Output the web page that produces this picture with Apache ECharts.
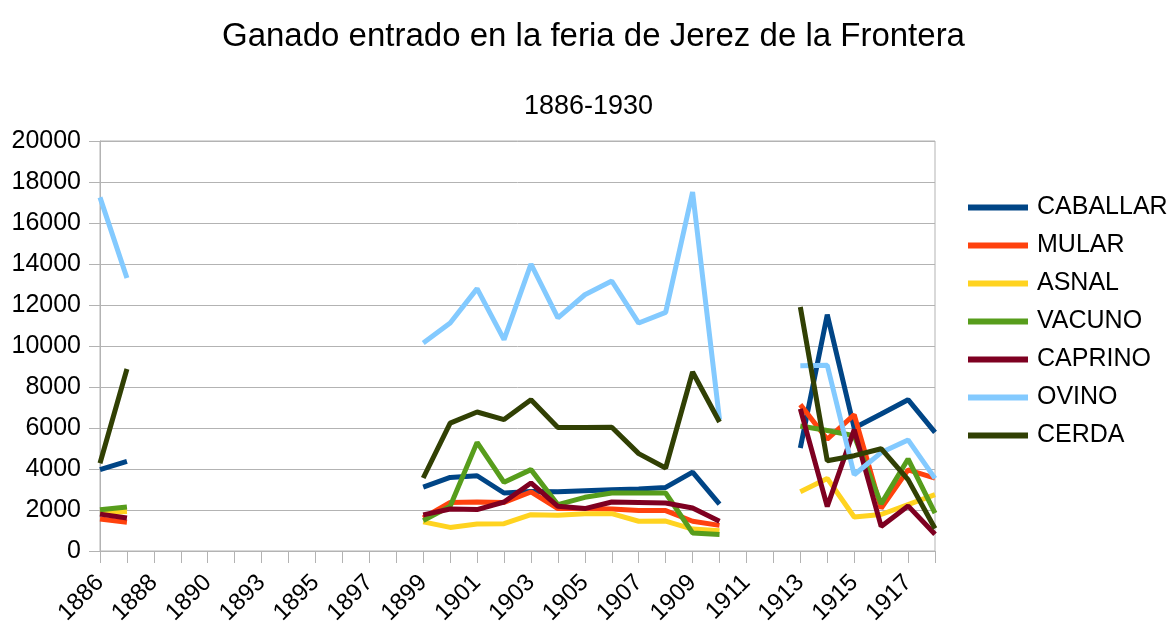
<!DOCTYPE html>
<html>
<head>
<meta charset="utf-8">
<title>Ganado entrado en la feria de Jerez de la Frontera</title>
<script src="https://cdn.jsdelivr.net/npm/echarts@6/dist/echarts.min.js"></script>
<style>
  html, body { margin: 0; padding: 0; background: #fff; }
  #chart { width: 1174px; height: 624px; }
</style>
</head>
<body>
<div id="chart"></div>
<script>
  // years on the category axis (1891 is not in the table)
  var years = [
    '1886', '1887', '1888', '1889', '1890', '1892', '1893', '1894', '1895', '1896',
    '1897', '1898', '1899', '1900', '1901', '1902', '1903', '1904', '1905', '1906',
    '1907', '1908', '1909', '1910', '1911', '1912', '1913', '1914', '1915', '1916',
    '1917', '1918'
  ];
  var gap10 = [null, null, null, null, null, null, null, null, null, null];

  var caballar = [3970, 4370].concat(gap10,
    [3120, 3590, 3670, 2830, 2900, 2890, 2940, 2990, 3020, 3100, 3850, 2290],
    [null, null], [5020, 11530, 6000, 6680, 7380, 5790]);
  var mular = [1560, 1400].concat(gap10,
    [1610, 2370, 2390, 2370, 2880, 2070, 2070, 2050, 1970, 1970, 1450, 1250],
    [null, null], [7140, 5450, 6650, 2080, 3960, 3560]);
  var asnal = [1850, 1930].concat(gap10,
    [1420, 1150, 1320, 1330, 1770, 1740, 1820, 1820, 1450, 1460, 1070, 990],
    [null, null], [2890, 3540, 1660, 1780, 2260, 2750]);
  var vacuno = [2010, 2150].concat(gap10,
    [1480, 2180, 5300, 3350, 3970, 2260, 2620, 2830, 2830, 2830, 880, 810],
    [null, null], [6100, 5880, 5620, 2300, 4490, 1850]);
  var caprino = [1800, 1610].concat(gap10,
    [1760, 2050, 2020, 2390, 3320, 2180, 2070, 2390, 2370, 2340, 2100, 1450],
    [null, null], [6930, 2170, 5920, 1200, 2200, 820]);
  var ovino = [17250, 13320].concat(gap10,
    [10150, 11120, 12800, 10310, 14000, 11370, 12500, 13170, 11120, 11640, 17510, 6410],
    [null, null], [9040, 9060, 3720, 4800, 5420, 3540]);
  var cerda = [4280, 8880].concat(gap10,
    [3560, 6240, 6780, 6410, 7380, 6030, 6030, 6040, 4750, 4050, 8730, 6290],
    [null, null], [11900, 4400, 4650, 4990, 3480, 1100]);

  var names = ['CABALLAR', 'MULAR', 'ASNAL', 'VACUNO', 'CAPRINO', 'OVINO', 'CERDA'];
  var values = [caballar, mular, asnal, vacuno, caprino, ovino, cerda];
  var colors = ['#004586', '#ff420e', '#ffd320', '#579d1c', '#7e0021', '#83caff', '#314004'];

  var font = '"Liberation Sans", Arial, sans-serif';

  var chart = echarts.init(document.getElementById('chart'));
  var series = names.map(function (n, i) {
    return {
      name: n,
      type: 'line',
      data: values[i],
      symbol: 'none',
      connectNulls: false,
      lineStyle: { width: 5, color: colors[i] },
      itemStyle: { color: colors[i] }
    };
  });

  var option = {
    animation: false,
    color: colors,
    title: [
      {
        text: 'Ganado entrado en la feria de Jerez de la Frontera',
        left: 217,
        top: 15,
        textStyle: { fontFamily: font, fontSize: 33, fontWeight: 'normal', color: '#000' }
      },
      {
        text: '1886-1930',
        left: 519,
        top: 88,
        textStyle: { fontFamily: font, fontSize: 27, fontWeight: 'normal', color: '#000' }
      }
    ],
    legend: {
      orient: 'vertical',
      left: 963,
      top: 190,
      icon: 'rect',
      itemWidth: 60,
      itemHeight: 6,
      itemGap: 13,
      data: names,
      textStyle: { fontFamily: font, fontSize: 25, color: '#000', padding: [0, 0, 0, 4] }
    },
    grid: {
      left: 100,
      right: 239,
      top: 141,
      bottom: 73,
      containLabel: false,
      outerBoundsMode: 'none',
      show: true,
      borderColor: '#b3b3b3',
      borderWidth: 1
    },
    xAxis: {
      type: 'category',
      data: years,
      boundaryGap: false,
      axisLine: { lineStyle: { color: '#b3b3b3', width: 1 } },
      axisTick: { show: true, interval: 0, length: 12, lineStyle: { color: '#b3b3b3' } },
      axisLabel: {
        interval: 1,
        rotate: 45,
        margin: 28,
        fontFamily: font,
        fontSize: 24,
        color: '#000'
      },
      splitLine: { show: false }
    },
    yAxis: {
      type: 'value',
      min: 0,
      max: 20000,
      interval: 2000,
      axisLine: { show: true, lineStyle: { color: '#b3b3b3', width: 1 } },
      axisTick: { show: true, length: 11, lineStyle: { color: '#b3b3b3' } },
      axisLabel: {
        margin: 19,
        fontFamily: font,
        fontSize: 25,
        color: '#000',
        formatter: function (v) { return String(v); }
      },
      splitLine: { lineStyle: { color: '#b3b3b3', width: 1 } }
    },
    series: series
  };

  chart.setOption(option);
</script>
</body>
</html>
